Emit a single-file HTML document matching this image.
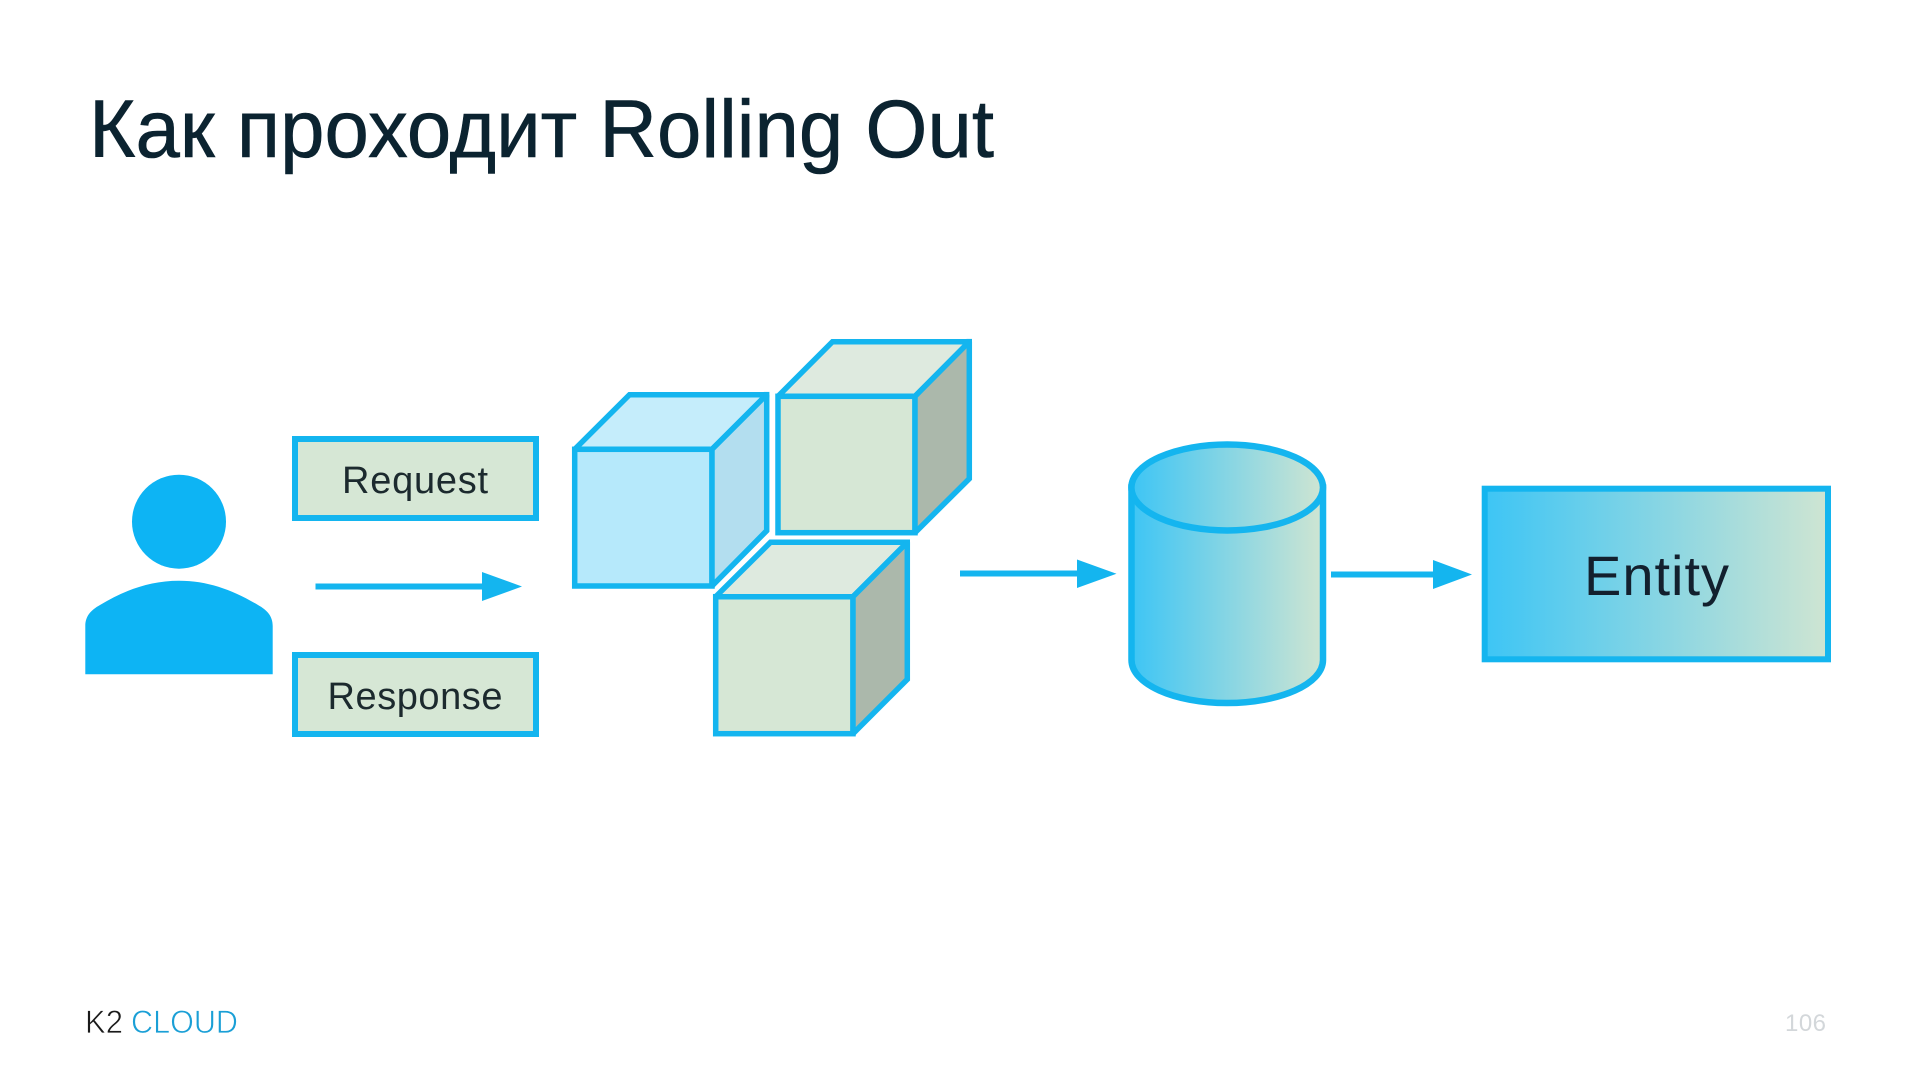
<!DOCTYPE html>
<html><head><meta charset="utf-8"><style>
html,body{margin:0;padding:0;background:#fff;width:1920px;height:1080px;overflow:hidden}
svg{display:block}
text{font-family:"Liberation Sans",sans-serif}
</style></head><body>
<svg width="1920" height="1080" viewBox="0 0 1920 1080" xmlns="http://www.w3.org/2000/svg">
<defs>
<linearGradient id="g1" gradientUnits="userSpaceOnUse" x1="1131" y1="0" x2="1323" y2="0"><stop offset="0" stop-color="#3dc5f5"/><stop offset="1" stop-color="#cfe5d2"/></linearGradient>
<linearGradient id="g2" gradientUnits="userSpaceOnUse" x1="1485" y1="0" x2="1828" y2="0"><stop offset="0" stop-color="#3dc5f5"/><stop offset="1" stop-color="#cfe5d2"/></linearGradient>
</defs>
<rect width="1920" height="1080" fill="#fff"/>
<text x="89" y="157" font-size="82" fill="#0b2330" stroke="#0b2330" stroke-width="0.6" textLength="905" lengthAdjust="spacingAndGlyphs">Как проходит Rolling Out</text>

<!-- person -->
<circle cx="179" cy="521.7" r="47" fill="#0db4f4"/>
<path d="M85.3 674.3V626C85.3 616 91 610 100 605C125 590 150 580.7 179 580.7C208 580.7 233 590 258 605C267 610 272.7 616 272.7 626V674.3Z" fill="#0db4f4"/>

<!-- request/response -->
<rect x="295" y="439" width="241" height="79" fill="#d6e7d5" stroke="#14b5ef" stroke-width="6"/>
<text x="342" y="493" font-size="38" fill="#1c2a2e" textLength="146">Request</text>
<rect x="295" y="655" width="241" height="79" fill="#d6e7d5" stroke="#14b5ef" stroke-width="6"/>
<text x="327.5" y="709" font-size="38" fill="#1c2a2e" textLength="175">Response</text>

<!-- arrow 1 -->
<rect x="315.5" y="583.5" width="170" height="6" fill="#14b5ef"/>
<polygon points="482,572 522,586.5 482,601" fill="#14b5ef"/>

<!-- cube 1 -->
<g stroke="#14b5ef" stroke-width="5.5" stroke-linejoin="miter" stroke-miterlimit="1.5">
<rect x="574.7" y="449.3" width="137.3" height="136.7" fill="#b6e9fb"/>
<polygon points="574.7,449.3 629.5,394.7 766.7,394.7 712,449.3" fill="#c5edfb"/>
<polygon points="712,449.3 766.7,394.7 766.7,530.7 712,586" fill="#b3deef"/>
</g>
<rect x="763.9" y="391.9" width="5.5" height="5.5" fill="#14b5ef"/>
<!-- cube 2 -->
<g stroke="#14b5ef" stroke-width="5.5" stroke-linejoin="miter" stroke-miterlimit="1.5">
<rect x="778" y="396.3" width="137" height="136.4" fill="#d6e7d5"/>
<polygon points="778,396.3 832.5,341.7 969.3,341.7 915,396.3" fill="#deeadf"/>
<polygon points="915,396.3 969.3,341.7 969.3,478.7 915,532.7" fill="#abb8ab"/>
</g>
<rect x="966.5" y="338.9" width="5.5" height="5.5" fill="#14b5ef"/>
<!-- cube 3 -->
<g stroke="#14b5ef" stroke-width="5.5" stroke-linejoin="miter" stroke-miterlimit="1.5">
<rect x="715.7" y="596.7" width="137.3" height="137" fill="#d6e7d5"/>
<polygon points="715.7,596.7 770.5,542.3 907.3,542.3 853,596.7" fill="#deeadf"/>
<polygon points="853,596.7 907.3,542.3 907.3,679.3 853,733.7" fill="#abb8ab"/>
</g>
<rect x="904.5" y="539.5" width="5.5" height="5.5" fill="#14b5ef"/>

<!-- arrow 2 -->
<rect x="960" y="570.5" width="120" height="6" fill="#14b5ef"/>
<polygon points="1077,559.5 1116.5,573.7 1077,588" fill="#14b5ef"/>

<!-- cylinder -->
<path d="M1131.5 487.5V660C1131.5 684 1174 703 1227 703C1280 703 1323 684 1323 660V487.5Z" fill="url(#g1)" stroke="#14b5ef" stroke-width="6.5"/>
<ellipse cx="1227.2" cy="487.5" rx="95.8" ry="43" fill="url(#g1)" stroke="#14b5ef" stroke-width="6.5"/>

<!-- arrow 3 -->
<rect x="1331" y="571.5" width="105" height="6" fill="#14b5ef"/>
<polygon points="1433,560 1472,574.5 1433,589" fill="#14b5ef"/>

<!-- entity -->
<rect x="1484.7" y="488.7" width="343.3" height="170.6" fill="url(#g2)" stroke="#14b5ef" stroke-width="6"/>
<text x="1584" y="595" font-size="56" fill="#13202e" textLength="145">Entity</text>

<!-- logo -->
<text x="85" y="1033" font-size="32" fill="#1a1a1a" stroke="#fff" stroke-width="0.7" textLength="38" lengthAdjust="spacingAndGlyphs">K2</text>
<text x="131" y="1033" font-size="32" fill="#1a9fd6" stroke="#fff" stroke-width="0.7" textLength="107" lengthAdjust="spacingAndGlyphs">CLOUD</text>

<!-- page -->
<text x="1785" y="1031" font-size="24" fill="#d3d7da" textLength="41">106</text>
</svg>
</body></html>
